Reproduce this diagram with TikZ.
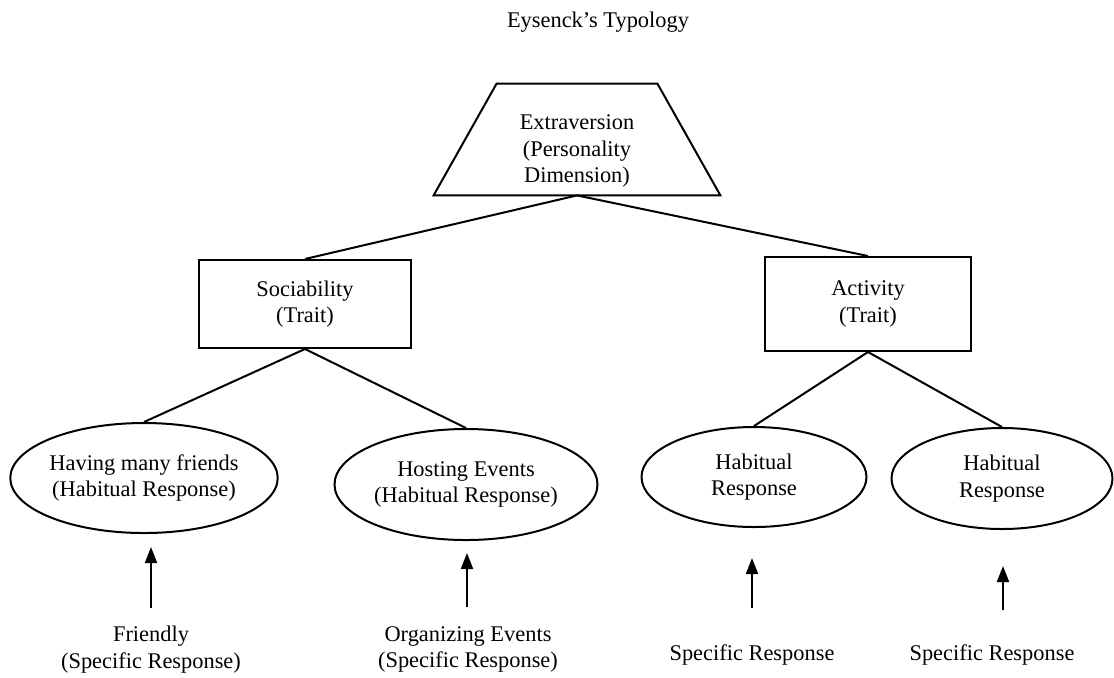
\documentclass[tikz,border=0pt]{standalone}
\usepackage{fontspec}
\setmainfont{Liberation Serif}
\usetikzlibrary{shapes.geometric,arrows.meta}

\begin{document}
\begin{tikzpicture}[x=0.5pt,y=-0.5pt,
    every node/.style={font=\fontsize{11.2}{13.3}\selectfont,align=center},
    box/.style={draw,line width=1pt,inner sep=0pt},
    oval/.style={draw,ellipse,line width=1pt,inner sep=0pt},
    link/.style={line width=1pt},
    up/.style={line width=1pt,-{Triangle[length=8pt,width=6pt]}}]
    \useasboundingbox(0,0)rectangle(1114,677);

    \node(title)at(598,22){Eysenck's Typology};

    % dimension
    \node[inner sep=0pt,minimum width=143pt,minimum height=55.5pt](ext)at(577,139.5){};
    \draw[link,line join=miter]([xshift=31.5pt]ext.north west)--([xshift=-31.5pt]ext.north east)
        --(ext.south east)--(ext.south west)--cycle;
    \node(exttext)at(577,151){Extraversion\\(Personality\\Dimension)};

    % traits
    \node[box,minimum width=106pt,minimum height=44pt](soc)at(305,304){Sociability\\(Trait)};
    \node[box,minimum width=103pt,minimum height=47pt](act)at(868,304){Activity\\(Trait)};
    \draw[link](ext.south)--(soc.north);
    \draw[link](ext.south)--(act.north);

    % habitual responses
    \node[oval,minimum width=131pt,minimum height=55pt](e1)at(144,478){Having many friends\\(Habitual Response)};
    \node[oval,minimum width=131.5pt,minimum height=55.5pt](e2)at(466,484.5){Hosting Events\\(Habitual Response)};
    \node[oval,minimum width=112.5pt,minimum height=50pt](e3)at(754,477){Habitual\\Response};
    \node[oval,minimum width=110.5pt,minimum height=50.5pt](e4)at(1002,478.5){Habitual\\Response};
    \draw[link](soc.south)--(e1.north);
    \draw[link](soc.south)--(e2.north);
    \draw[link](act.south)--(e3.north);
    \draw[link](act.south)--(e4.north);

    % specific responses
    \node(s1)at(151,649.5){Friendly\\(Specific Response)};
    \node(s2)at(468,649.5){Organizing Events\\(Specific Response)};
    \node(s3)at(752,655){Specific Response};
    \node(s4)at(992,655){Specific Response};

    \coordinate(t1)at(151,608);\coordinate(h1)at(151,547);
    \coordinate(t2)at(467,607);\coordinate(h2)at(467,553);
    \coordinate(t3)at(752,608);\coordinate(h3)at(752,558);
    \coordinate(t4)at(1003,610);\coordinate(h4)at(1003,566);
    \foreach \i in {1,...,4}
        \draw[up](t\i)--(h\i);
\end{tikzpicture}
\end{document}
